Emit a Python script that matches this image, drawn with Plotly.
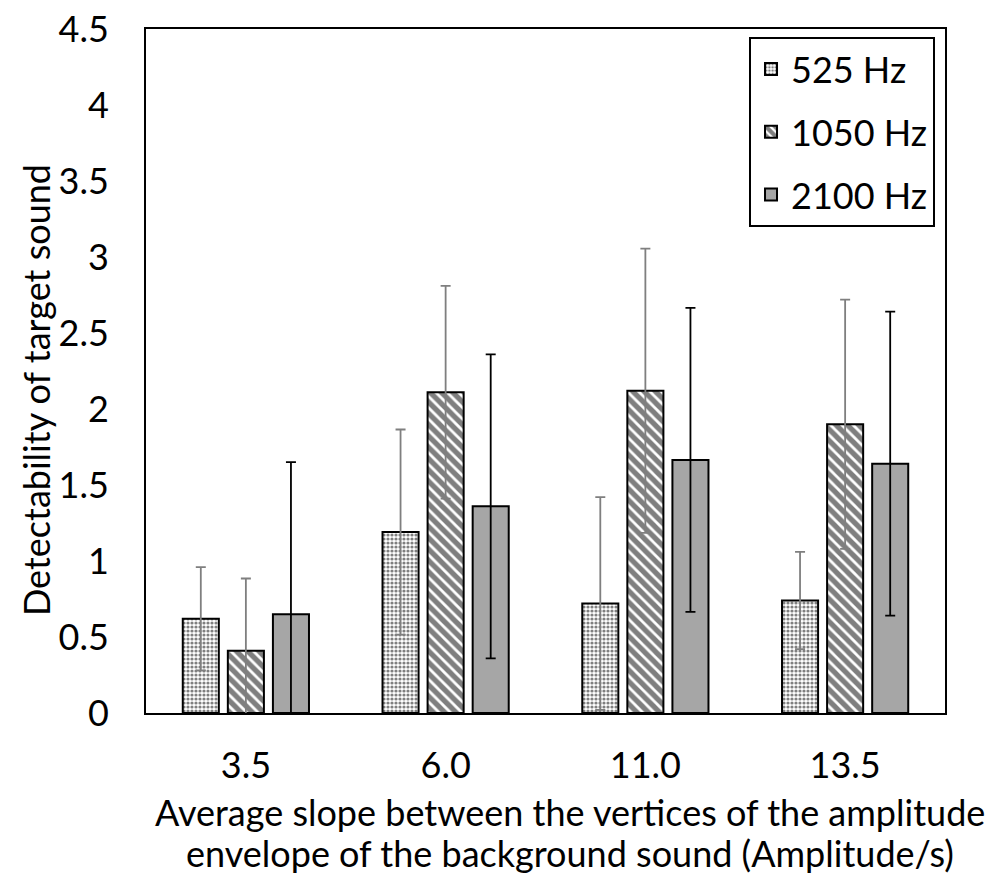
import plotly.graph_objects as go

categories = ["3.5", "6.0", "11.0", "13.5"]
series_names = ["525 Hz", "1050 Hz", "2100 Hz"]
vals_525 = [0.62, 1.19, 0.72, 0.74]
err_525 = [0.34, 0.675, 0.70, 0.32]
vals_1050 = [0.41, 2.11, 2.12, 1.90]
err_1050 = [0.475, 0.70, 0.935, 0.82]
vals_2100 = [0.65, 1.36, 1.665, 1.64]
err_2100 = [1.00, 1.00, 1.00, 1.00]
y_ticks = [0, 0.5, 1, 1.5, 2, 2.5, 3, 3.5, 4, 4.5]
y_tick_labels = ["0", "0.5", "1", "1.5", "2", "2.5", "3", "3.5", "4", "4.5"]
x_title_lines = ["Average slope between the vertices of the amplitude",
                 "envelope of the background sound (Amplitude/s)"]
y_title = "Detectability of target sound"

FONT = "Lato"
FS = 36

fig = go.Figure()
fig.add_trace(go.Bar(
    name=series_names[0], x=categories, y=vals_525,
    marker=dict(color="white", line=dict(color="black", width=2),
                pattern=dict(shape=".", fgcolor="black", bgcolor="white", size=4, solidity=0.5)),
    error_y=dict(type="data", array=err_525, color="#7f7f7f", thickness=1.8, width=5),
    legendgroup="a",
))
fig.add_trace(go.Bar(
    name=series_names[1], x=categories, y=vals_1050,
    marker=dict(color="white", line=dict(color="black", width=2),
                pattern=dict(shape="\\", fgcolor="black", bgcolor="white", size=8, solidity=0.65)),
    error_y=dict(type="data", array=err_1050, color="#7f7f7f", thickness=1.8, width=5),
    legendgroup="b",
))
fig.add_trace(go.Bar(
    name=series_names[2], x=categories, y=vals_2100,
    marker=dict(color="#a6a6a6", line=dict(color="black", width=2)),
    error_y=dict(type="data", array=err_2100, color="black", thickness=1.8, width=5),
    legendgroup="c",
))

fig.update_layout(
    width=1001, height=880,
    margin=dict(l=146, r=56, t=29, b=167, autoexpand=False),
    paper_bgcolor="white", plot_bgcolor="white",
    font=dict(family=FONT, size=FS, color="black"),
    barmode="group", bargap=0.323, bargroupgap=0.2,
    showlegend=True,
    legend=dict(x=0.9875, y=0.9883, xanchor="right", yanchor="top",
                bordercolor="black", borderwidth=2, bgcolor="white",
                font=dict(family=FONT, size=FS, color="black"),
                tracegroupgap=13, itemsizing="constant"),
    xaxis=dict(showline=True, linecolor="black", linewidth=2, mirror=True,
               ticks="", ticklabelstandoff=20, showgrid=False, automargin=False,
               ticklabeloverflow="allow"),
    yaxis=dict(range=[0, 4.5], showline=True, linecolor="black", linewidth=2, mirror=True,
               tickvals=y_ticks, ticktext=y_tick_labels, ticks="", ticklabelstandoff=28,
               showgrid=False, zeroline=False, automargin=False,
               ticklabeloverflow="allow"),
)

fig.add_annotation(text=x_title_lines[0], xref="paper", yref="paper", x=0.5307, y=0,
                   xanchor="center", yanchor="middle", yshift=-99, showarrow=False,
                   font=dict(family=FONT, size=FS, color="black"))
fig.add_annotation(text=x_title_lines[1], xref="paper", yref="paper", x=0.5307, y=0,
                   xanchor="center", yanchor="middle", yshift=-140, showarrow=False,
                   font=dict(family=FONT, size=FS, color="black"))
fig.add_annotation(text=y_title, xref="paper", yref="paper", x=0, y=0.4722,
                   xanchor="center", yanchor="middle", xshift=-110, textangle=-90,
                   showarrow=False, font=dict(family=FONT, size=FS, color="black"))

fig.write_html("out.html", config={"displayModeBar": False},
               post_script="document.body.style.margin='0';")
